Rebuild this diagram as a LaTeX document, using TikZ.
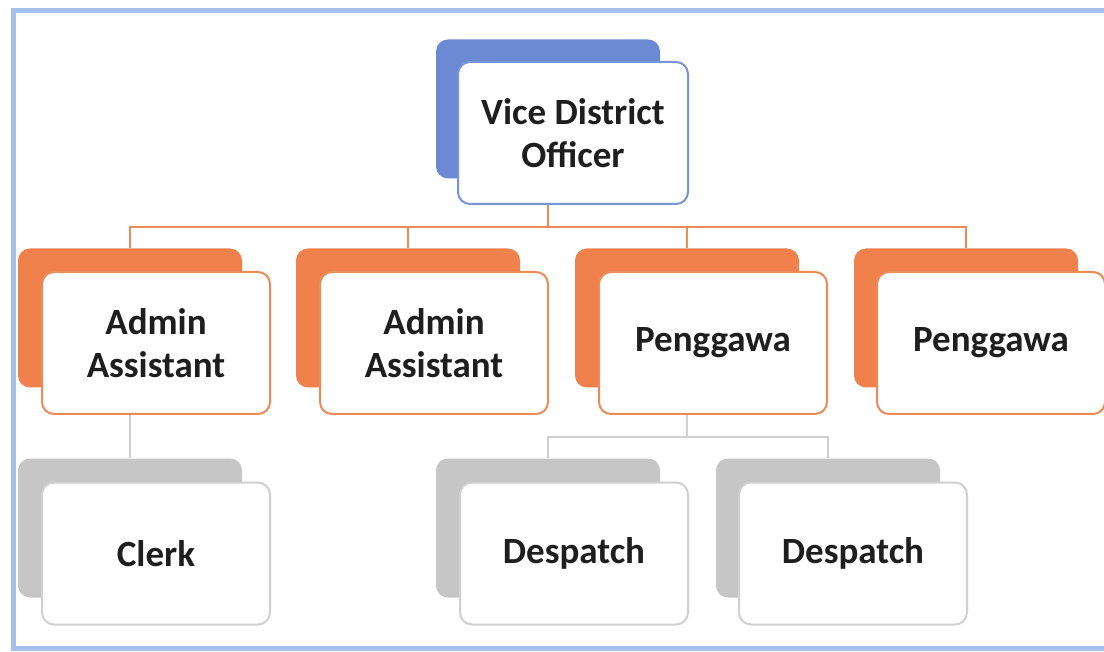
\documentclass[tikz,border=0pt]{standalone}
\usepackage{fontspec}
\setmainfont{Carlito}
\definecolor{frameblue}{RGB}{165,192,236}
\definecolor{topfill}{RGB}{108,138,212}
\definecolor{topline}{RGB}{118,148,214}
\definecolor{midfill}{RGB}{240,128,76}
\definecolor{midline}{RGB}{236,138,88}
\definecolor{lowfill}{RGB}{198,198,198}
\definecolor{lowline}{RGB}{208,208,208}
\definecolor{txt}{RGB}{30,30,30}
\tikzset{
  back/.style={rectangle, rounded corners=12pt, minimum width=224pt, minimum height=139pt, inner sep=0pt},
  front/.style={rectangle, rounded corners=12pt, fill=white, line width=2pt,
    minimum width=228pt, minimum height=142pt, inner sep=0pt, align=center,
    text=txt, font=\fontsize{37}{43}\selectfont\bfseries},
  topback/.style={back, fill=topfill},
  topfront/.style={front, draw=topline},
  midback/.style={back, fill=midfill},
  midfront/.style={front, draw=midline},
  lowback/.style={back, fill=lowfill},
  lowfront/.style={front, draw=lowline},
  orgline/.style={draw=midline, line width=2pt},
  greyline/.style={draw=lowline, line width=2pt}
}
\begin{document}
\begin{tikzpicture}[x=1pt, y=-1pt]
\useasboundingbox (0,0) rectangle (1104,652);
\fill[white] (0,0) rectangle (1104,652);
\draw[frameblue, line width=5pt] (1112,11) -- (13,11) -- (13,648) -- (1112,648);

% shadow plates behind each card
\node[topback] (vdob) at (548,109) {};
\node[midback] (aa1b) at (130,318) {};
\node[midback] (aa2b) at (408,318) {};
\node[midback] (pg1b) at (687,318) {};
\node[midback] (pg2b) at (966,318) {};
\node[lowback] (clkb) at (130,528) {};
\node[lowback] (ds1b) at (548,528) {};
\node[lowback] (ds2b) at (828,528) {};

% cards
\node[topfront, minimum width=230pt] (vdo) at (573,133) {Vice District\\Officer};
\node[midfront] (aa1) at (156,343) {Admin\\Assistant};
\node[midfront] (aa2) at (434,343) {Admin\\Assistant};
\node[midfront] (pg1) at (713,343) {Penggawa};
\node[midfront] (pg2) at (991,343) {Penggawa};
\node[lowfront] (clk) at (156,553.5) {Clerk};
\node[lowfront] (ds1) at (574,553.5) {Despatch};
\node[lowfront] (ds2) at (853,553.5) {Despatch};

% connectors, first level (bus 22pt below the top card)
\coordinate (busA) at ([yshift=-22pt]vdob |- vdo.south);
\draw[orgline] (vdob |- vdo.south) -- (busA);
\draw[orgline] (aa1b.north) |- (busA) -| (pg2b.north);
\draw[orgline] (aa2b.north) -- (aa2b.north |- busA);
\draw[orgline] (pg1b.north) -- (pg1b.north |- busA);

% connectors, second level
\coordinate (busB) at ([yshift=-22pt]pg1b |- pg1.south);
\draw[greyline] (aa1b |- aa1.south) -- (clkb.north);
\draw[greyline] (pg1b |- pg1.south) -- (busB);
\draw[greyline] (ds1b.north) |- (busB) -| (ds2b.north);
\end{tikzpicture}
\end{document}
